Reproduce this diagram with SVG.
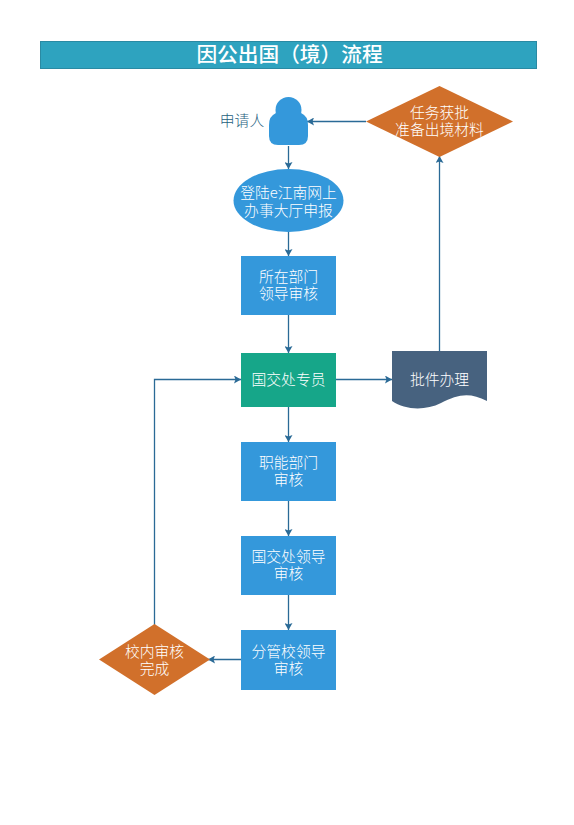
<svg xmlns="http://www.w3.org/2000/svg" width="574" height="825" viewBox="0 0 574 825">
<style>
text{font-family:"Noto Sans CJK SC","Liberation Sans",sans-serif;font-size:14.8px;font-weight:300;fill:#fff;text-anchor:middle}
.b{fill:#3498db}
.d{fill:#d1702b}
.c{fill:none;stroke:#2a6a96;stroke-width:1.3;marker-end:url(#a)}
</style>
<defs><marker id="a" markerUnits="userSpaceOnUse" markerWidth="9" markerHeight="8" refX="7" refY="4" orient="auto"><path d="M0 0L7 4L0 8L1.5 4Z" fill="#2a6a96"/></marker></defs>
<rect width="574" height="825" fill="#fff"/>
<g id="title"><rect x="40.500" y="41.500" width="496" height="27" fill="#2ea3bf" stroke="#2a8aa3"/><text x="289.500" y="62" style="font-size:20.700px;font-weight:500">因公出国（境）流程</text></g>
<g id="connectors">
<path class="c" d="M366 121.500H307"/>
<path class="c" d="M288.500 146V169"/>
<path class="c" d="M288.500 232V256"/>
<path class="c" d="M288.500 315V353"/>
<path class="c" d="M336 379.500H392"/>
<path class="c" d="M439.500 351V156"/>
<path class="c" d="M288.500 407V442"/>
<path class="c" d="M288.500 501V536"/>
<path class="c" d="M288.500 595V630"/>
<path class="c" d="M241 659.500H208"/>
<path class="c" d="M154.500 625V379.500H241"/>
</g>
<g id="applicant"><circle cx="288.500" cy="110" r="13" class="b"/><path class="b" d="M276 113H301Q308 116 308 125V136Q308 145 299 145H278Q269 145 269 136V125Q269 116 276 113Z"/><text x="242" y="125.500" style="fill:#1f5f80">申请人</text></g>
<g id="approve"><path class="d" d="M439.500 86L513 121.500L439.500 157L366 121.500Z"/><text x="439.500" y="118">任务获批<tspan x="439.500" dy="17">准备出境材料</tspan></text></g>
<g id="login"><ellipse cx="288.500" cy="200.500" rx="55" ry="31.500" class="b"/><text x="288.500" y="197.500">登陆e江南网上<tspan x="288.500" dy="18">办事大厅申报</tspan></text></g>
<g id="dept"><rect x="241" y="256" width="95" height="59" class="b"/><text x="288.500" y="281.500">所在部门<tspan x="288.500" dy="17">领导审核</tspan></text></g>
<g id="officer"><rect x="241" y="353" width="95" height="54" fill="#16a689"/><text x="288.500" y="384.500">国交处专员</text></g>
<g id="doc"><path fill="#47627f" d="M392 351H487V401C470 392 458 394 441 403C425 411 405 410 392 401Z"/><text x="439.500" y="384.500">批件办理</text></g>
<g id="func"><rect x="241" y="442" width="95" height="59" class="b"/><text x="288.500" y="467.500">职能部门<tspan x="288.500" dy="17">审核</tspan></text></g>
<g id="leader"><rect x="241" y="536" width="95" height="59" class="b"/><text x="288.500" y="561.500">国交处领导<tspan x="288.500" dy="17">审核</tspan></text></g>
<g id="school"><rect x="241" y="630" width="95" height="60" class="b"/><text x="288.500" y="656.500">分管校领导<tspan x="288.500" dy="17">审核</tspan></text></g>
<g id="done"><path class="d" d="M154.500 624L210 659.500L154.500 695L99 659.500Z"/><text x="154.500" y="656.500">校内审核<tspan x="154.500" dy="17">完成</tspan></text></g>
</svg>
